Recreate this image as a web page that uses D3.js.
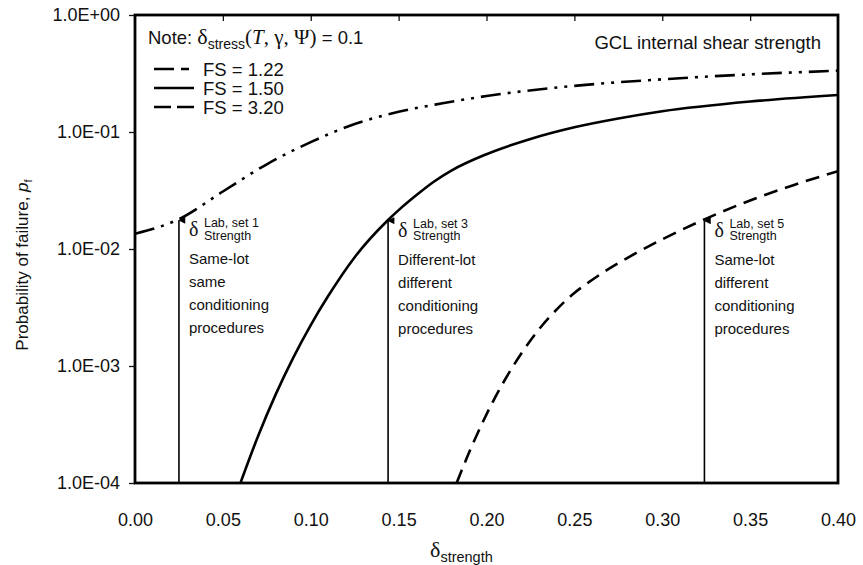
<!DOCTYPE html>
<html>
<head>
<meta charset="utf-8">
<script src="https://cdn.jsdelivr.net/npm/d3@7"></script>
<style>
body { margin: 0; background: #fff; }
text { font-family: "Liberation Sans", Arial, Helvetica, sans-serif; fill: #111; }
.serif { font-family: "Liberation Serif", "Times New Roman", serif; }
</style>
</head>
<body>
<svg id="chart" width="863" height="565"></svg>
<script>
// tick values
var xTicks = [0, 0.05, 0.10, 0.15, 0.20, 0.25, 0.30, 0.35, 0.40];
var yTicks = [1e-4, 1e-3, 1e-2, 1e-1, 1];

// FS = 1.22 (dash-dot-dot)
var fs122X = [0, 0.025, 0.05, 0.075, 0.10, 0.125, 0.15, 0.175, 0.20, 0.25, 0.30, 0.35, 0.40];
var fs122P = [0.0135, 0.018, 0.031, 0.053, 0.082, 0.117, 0.149, 0.176, 0.203, 0.248, 0.282, 0.311, 0.334];

// FS = 1.50 (solid)
var fs150X = [0.060, 0.07, 0.08, 0.09, 0.10, 0.11, 0.125, 0.144, 0.15, 0.16, 0.17, 0.18, 0.20, 0.225, 0.25, 0.275, 0.30, 0.35, 0.40];
var fs150P = [1e-4, 2.51e-4, 5.69e-4, 1.175e-3, 2.24e-3, 3.98e-3, 8.51e-3, 0.0177, 0.0215, 0.0288, 0.0376, 0.0468, 0.0646, 0.0871, 0.1096, 0.1303, 0.1503, 0.182, 0.207];

// FS = 3.20 (dashed)
var fs320X = [0.183, 0.19, 0.20, 0.21, 0.22, 0.23, 0.24, 0.25, 0.26, 0.27, 0.28, 0.30, 0.325, 0.35, 0.375, 0.40];
var fs320P = [1e-4, 1.81e-4, 3.86e-4, 7.41e-4, 1.29e-3, 2.07e-3, 3.05e-3, 4.21e-3, 5.43e-3, 6.84e-3, 8.37e-3, 0.0121, 0.0182, 0.0260, 0.0353, 0.0462];

// lab strength markers
var labSets = ["1", "3", "5"];
var labX = [0.025, 0.144, 0.324];
var labP = [0.018, 0.0178, 0.0178];
var labText = [
    ["Same-lot", "same", "conditioning", "procedures"],
    ["Different-lot", "different", "conditioning", "procedures"],
    ["Same-lot", "different", "conditioning", "procedures"]
];

var legendNames = ["FS = 1.22", "FS = 1.50", "FS = 3.20"];

(function () {
    var svg = d3.select('#chart');
    var left = 135, right = 838, plotTop = 15, plotBottom = 483;

    var x = d3.scaleLinear().domain([0, 0.4]).range([left, right]);
    var y = d3.scaleLog().domain([1e-4, 1]).range([plotBottom, plotTop]);

    var dashes = ["20,7,3,7,3,7", null, "14,8"];

    // clip for the curves
    var defs = svg.append('defs');
    defs.append('clipPath').attr('id', 'plot')
        .append('rect').attr('x', left).attr('y', plotTop)
        .attr('width', right - left).attr('height', plotBottom - plotTop);

    // y axis ticks and labels
    var fmtY = function (d) {
        var e = Math.round(Math.log10(d));
        return '1.0E' + (e < 0 ? '-' : '+') + (Math.abs(e) < 10 ? '0' : '') + Math.abs(e);
    };
    var yAxis = svg.append('g').attr('transform', 'translate(' + left + ',0)')
        .call(d3.axisLeft(y).tickValues(yTicks).tickFormat(fmtY).tickSize(6).tickPadding(9));
    yAxis.select('.domain').remove();
    yAxis.selectAll('.tick line').attr('stroke', '#111').attr('stroke-width', 1.3);
    yAxis.selectAll('.tick text').style('font-size', '18px').attr('fill', '#111');

    // x axis labels (no bottom ticks)
    var xAxis = svg.append('g').attr('transform', 'translate(0,' + plotBottom + ')')
        .call(d3.axisBottom(x).tickValues(xTicks).tickFormat(d3.format('.2f')).tickSize(0).tickPadding(30));
    xAxis.select('.domain').remove();
    xAxis.selectAll('.tick text').style('font-size', '18px').attr('fill', '#111');

    // inner ticks on top edge
    var topAxis = svg.append('g').attr('transform', 'translate(0,' + plotTop + ')')
        .call(d3.axisTop(x).tickValues(xTicks.slice(1, -1)).tickSize(-6).tickFormat(''));
    topAxis.select('.domain').remove();
    topAxis.selectAll('.tick line').attr('stroke', '#111').attr('stroke-width', 1.3);

    // curves
    var line = d3.line().x(function (d) { return x(d[0]); }).y(function (d) { return y(d[1]); })
        .curve(d3.curveMonotoneX);
    var series = [d3.zip(fs122X, fs122P), d3.zip(fs150X, fs150P), d3.zip(fs320X, fs320P)];
    svg.append('g').attr('clip-path', 'url(#plot)').selectAll('path').data(series).enter()
        .append('path')
        .attr('d', line)
        .attr('fill', 'none')
        .attr('stroke', '#000')
        .attr('stroke-width', 2.6)
        .attr('stroke-dasharray', function (d, i) { return dashes[i]; });

    // arrow head
    defs.append('marker').attr('id', 'head')
        .attr('viewBox', '0 0 10 10').attr('refX', 5).attr('refY', 1)
        .attr('markerWidth', 7).attr('markerHeight', 10).attr('markerUnits', 'userSpaceOnUse')
        .attr('orient', 'auto-start-reverse')
        .append('path').attr('d', 'M0,10 L5,0 L10,10 Z').attr('fill', '#000');

    var labG = svg.append('g');
    labX.forEach(function (v, i) {
        labG.append('line')
            .attr('x1', x(v)).attr('x2', x(v))
            .attr('y1', plotBottom).attr('y2', y(labP[i]) + 1)
            .attr('stroke', '#000').attr('stroke-width', 1.6)
            .attr('marker-end', 'url(#head)');
    });

    // annotation text, placed just right of each arrow
    labX.forEach(function (v, i) {
        var px = x(v) + 10, py = y(labP[i]);
        labG.append('text').attr('class', 'serif').attr('x', px).attr('y', py + 17)
            .style('font-size', '20px').text('δ');
        labG.append('text').attr('x', px + 15).attr('y', py + 8)
            .style('font-size', '12.5px').text('Lab, set ' + labSets[i]);
        labG.append('text').attr('x', px + 15).attr('y', py + 20.5)
            .style('font-size', '12.5px').text('Strength');
        labText[i].forEach(function (t, j) {
            labG.append('text').attr('x', px).attr('y', py + 45 + j * 23)
                .style('font-size', '15px').text(t);
        });
    });

    // frame
    svg.append('rect').attr('x', left).attr('y', plotTop)
        .attr('width', right - left).attr('height', plotBottom - plotTop)
        .attr('fill', 'none').attr('stroke', '#000').attr('stroke-width', 2.8);

    // note
    var note = svg.append('text').attr('x', 148).attr('y', 44).style('font-size', '18.5px');
    note.append('tspan').text('Note: ');
    note.append('tspan').attr('class', 'serif').style('font-size', '22px').text('δ');
    note.append('tspan').attr('dy', 5).style('font-size', '14px').text('stress');
    note.append('tspan').attr('dy', -5).attr('class', 'serif').style('font-size', '21px').text('(');
    note.append('tspan').attr('class', 'serif').style('font-size', '21px').style('font-style', 'italic').text('T');
    note.append('tspan').attr('class', 'serif').style('font-size', '21px').text(', γ, Ψ)');
    note.append('tspan').text(' = 0.1');

    svg.append('text').attr('x', 821).attr('y', 49).attr('text-anchor', 'end')
        .style('font-size', '18.5px').text('GCL internal shear strength');

    // legend
    var legY = [69, 88, 107];
    var leg = svg.append('g');
    legendNames.forEach(function (n, i) {
        leg.append('line').attr('x1', 154).attr('x2', 194).attr('y1', legY[i]).attr('y2', legY[i])
            .attr('stroke', '#000').attr('stroke-width', 2.6)
            .attr('stroke-dasharray', i === 0 ? '20,7,8,20' : (i === 2 ? '17,6' : null));
        leg.append('text').attr('x', 203).attr('y', legY[i] + 6.5).style('font-size', '18.5px').text(n);
    });

    // axis titles
    var xt = svg.append('text').attr('x', 430).attr('y', 557).style('font-size', '17px');
    xt.append('tspan').attr('class', 'serif').style('font-size', '22px').text('δ');
    xt.append('tspan').attr('dy', 5).style('font-size', '14.5px').text('strength');

    var yt = svg.append('text').attr('transform', 'translate(28,265) rotate(-90)')
        .attr('text-anchor', 'middle').style('font-size', '17px');
    yt.append('tspan').text('Probability of failure,  ');
    yt.append('tspan').style('font-style', 'italic').text('p');
    yt.append('tspan').attr('dy', 4).style('font-size', '11px').text('f');
})();
</script>
</body>
</html>
